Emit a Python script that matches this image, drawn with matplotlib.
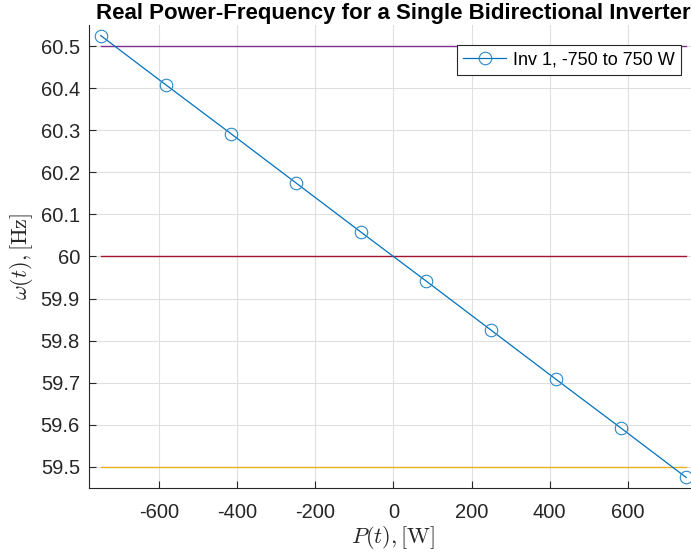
import matplotlib.pyplot as plt
import numpy as np

plt.rcParams['font.family'] = ['Liberation Sans', 'DejaVu Sans']
plt.rcParams['mathtext.fontset'] = 'cm'
plt.rcParams['axes.unicode_minus'] = False

# inverter droop points
power = [-750, -583.33, -416.67, -250, -83.33, 83.33, 250, 416.67, 583.33, 750]
freq = [60.525, 60.408, 60.292, 60.175, 60.058, 59.942, 59.825, 59.708, 59.592, 59.475]

# reference limits
p_span = [-750, 750]
f_max = 60.5
f_nom = 60.0
f_min = 59.5

fig = plt.figure(figsize=(6.91, 5.57), dpi=100)
ax = fig.add_axes([0.1288, 0.1239, 0.8812, 0.8312])

ax.plot(p_span, [f_max, f_max], color='#7E2F8E', lw=1.0)
ax.plot(p_span, [f_nom, f_nom], color='#A2142F', lw=1.0)
ax.plot(p_span, [f_min, f_min], color='#EDB120', lw=1.0)
line, = ax.plot(power, freq, color='#0072BD', lw=0.9, marker='o', ms=9,
                mfc='none', mec='#2A88C8', mew=0.8, label='Inv 1, -750 to 750 W')

ax.set_xlim(-780, 780)
ax.set_ylim(59.45, 60.55)
ax.set_xticks([-600, -400, -200, 0, 200, 400, 600])
ax.set_yticks(np.arange(59.5, 60.51, 0.1))
ax.set_yticklabels(['59.5', '59.6', '59.7', '59.8', '59.9', '60', '60.1', '60.2', '60.3', '60.4', '60.5'])

ax.grid(True, color='#DFDFDF', lw=0.8)
ax.set_axisbelow(True)
for s in ['top', 'right']:
    ax.spines[s].set_visible(False)
for s in ['left', 'bottom']:
    ax.spines[s].set_color('#262626')
ax.tick_params(direction='in', length=5, colors='#262626', labelsize=14.5)
ax.tick_params(axis='x', pad=11)
ax.tick_params(axis='y', pad=6.5)

ax.set_xlabel(r'$P(t), [\mathrm{W}]$', fontsize=16, color='#262626', labelpad=1)
ax.set_ylabel(r'$\omega(t), [\mathrm{Hz}]$', fontsize=16, color='#262626', labelpad=4)
ax.set_title('Real Power-Frequency for a Single Bidirectional Inverter',
             fontsize=16, fontweight='bold', x=0.5, pad=4)

leg = ax.legend(handles=[line], loc='upper right', bbox_to_anchor=(0.972, 0.957),
                fontsize=13, fancybox=False, framealpha=1, edgecolor='#262626',
                handlelength=2.4, handletextpad=0.35, borderpad=0.35, borderaxespad=0)
leg.get_frame().set_linewidth(0.8)

fig.savefig('out.png', dpi=100)
